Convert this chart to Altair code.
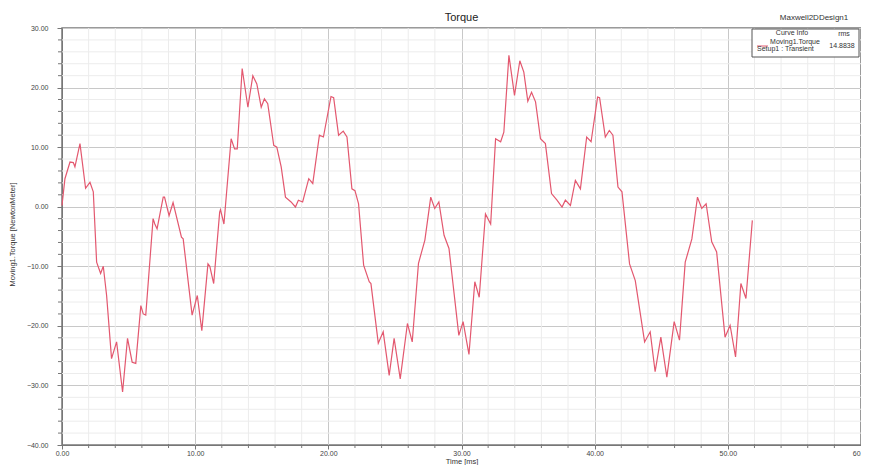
import altair as alt
import pandas as pd

# ---- data ----
time_ms = [0.0, 0.22, 0.6, 0.85, 0.97, 1.35, 1.77, 2.1, 2.35, 2.6,
           2.9, 3.1, 3.35, 3.72, 4.1, 4.55, 4.92, 5.27, 5.54, 5.92,
           6.1, 6.29, 6.84, 6.97, 7.14, 7.6, 7.7, 8.04, 8.34, 8.97,
           9.1, 9.77, 10.16, 10.5, 10.96, 11.1, 11.39, 11.84, 11.9, 12.16,
           12.7, 12.96, 13.16, 13.53, 13.96, 14.33, 14.63, 14.96, 15.2, 15.45,
           15.9, 16.13, 16.46, 16.78, 17.2, 17.53, 17.75, 18.07, 18.53, 18.83,
           19.33, 19.63, 20.2, 20.4, 20.77, 21.12, 21.4, 21.77, 22.0, 22.27,
           22.65, 23.07, 23.2, 23.75, 24.12, 24.57, 24.94, 25.4, 25.94, 26.3,
           26.77, 27.25, 27.69, 27.99, 28.3, 28.69, 29.06, 29.8, 30.12, 30.56,
           31.0, 31.33, 31.8, 32.19, 32.56, 32.94, 33.18, 33.56, 33.98, 34.38,
           34.68, 34.98, 35.26, 35.56, 35.93, 36.3, 36.76, 37.17, 37.55, 37.8,
           38.18, 38.55, 38.93, 39.4, 39.73, 40.22, 40.37, 40.8, 41.1, 41.37,
           41.75, 42.05, 42.62, 43.05, 43.75, 44.17, 44.54, 44.97, 45.42, 45.97,
           46.37, 46.8, 47.3, 47.72, 48.04, 48.37, 48.79, 49.16, 49.79, 50.17,
           50.58, 50.98, 51.36, 51.84]

torque = [0.2, 4.7, 7.5, 7.4, 6.7, 10.6, 3.1, 4.1, 2.5, -9.3,
          -11.2, -10.0, -14.9, -25.5, -22.7, -31.1, -22.1, -26.1, -26.3, -16.6,
          -18.0, -18.2, -2.0, -2.9, -3.7, 1.6, 1.6, -1.5, 0.7, -5.1,
          -5.4, -18.2, -14.9, -20.8, -9.6, -10.0, -12.9, -0.9, -0.5, -2.9,
          11.4, 9.7, 9.7, 23.2, 16.7, 22.0, 20.6, 16.7, 18.1, 17.3,
          10.3, 10.0, 6.7, 1.6, 0.8, -0.05, 1.1, 0.8, 4.7, 3.9,
          12.0, 11.7, 18.5, 18.3, 12.0, 12.7, 11.7, 3.0, 2.7, 0.5,
          -9.8, -12.6, -12.9, -22.9, -21.0, -28.3, -22.1, -28.9, -19.6, -22.7,
          -9.5, -5.6, 1.6, -0.3, 0.8, -4.8, -7.0, -21.6, -19.3, -24.8,
          -12.6, -15.2, -1.2, -2.9, 11.4, 10.9, 12.5, 25.4, 18.7, 24.5,
          22.6, 17.7, 19.2, 17.6, 11.4, 10.6, 2.2, 1.1, -0.05, 1.1,
          0.2, 4.4, 3.0, 11.7, 10.9, 18.4, 18.3, 11.7, 12.8, 12.0,
          3.3, 2.5, -9.6, -12.4, -22.7, -21.0, -27.7, -21.9, -28.6, -19.3,
          -22.4, -9.3, -5.4, 1.6, -0.3, 0.5, -5.9, -7.6, -21.9, -19.9,
          -25.2, -12.9, -15.4, -2.3]

x_major = [0, 10, 20, 30, 40, 50, 60]
y_major = [-40, -30, -20, -10, 0, 10, 20, 30]
x_minor = [v for v in range(0, 61, 2) if v % 10]
y_minor = [v for v in range(-40, 31, 2) if v % 10]

chart_title = "Torque"
design_name = "Maxwell2DDesign1"
legend_head = "Curve Info"
legend_stat = "rms"
curve_name = "Moving1.Torque"
setup_name = "Setup1 : Transient"
rms_value = "14.8838"

# ---- build ----
FONT = "Liberation Sans"
RED = "#e3586f"
W, H = 799, 417

df = pd.DataFrame({"t": time_ms, "T": torque})
xminor_df = pd.DataFrame({"t": x_minor})
yminor_df = pd.DataFrame({"T": y_minor})
leg = pd.DataFrame({"head": [legend_head], "stat": [legend_stat],
                    "name": [curve_name], "setup": [setup_name],
                    "rms": [rms_value], "design": [design_name],
                    "title": [chart_title]})

xs = alt.Scale(domain=[0, 60], nice=False, zero=False)
ys = alt.Scale(domain=[-40, 30], nice=False, zero=False)

x_axis = alt.Axis(
    orient="bottom",
    values=x_major, format=".2f", title="Time [ms]", grid=True,
    gridColor="#c8c8c8", gridWidth=1, domainColor="#777777",
    tickColor="#777777", tickSize=4, labelFontSize=7, labelColor="#444444",
    labelPadding=0, titleFontSize=7.5, titleFontWeight="normal",
    titleColor="#333333", titlePadding=1, labelFlush=False)
y_axis = alt.Axis(
    orient="left",
    values=y_major, format=".2f", title="Moving1.Torque [NewtonMeter]",
    grid=True, gridColor="#c8c8c8", gridWidth=1, domainColor="#777777",
    tickColor="#777777", tickSize=5, labelFontSize=7, labelColor="#444444",
    labelPadding=9, titleFontSize=7.5, titleFontWeight="normal",
    titleColor="#333333", titleX=-46, titleY=206, titleBaseline="bottom",
    labelFlush=False)

X = alt.X("t:Q", scale=xs, axis=x_axis, title="Time [ms]")
Y = alt.Y("T:Q", scale=ys, axis=y_axis, title="Moving1.Torque [NewtonMeter]")

grid_x_minor = alt.Chart(xminor_df).mark_rule(color="#ececec", strokeWidth=1).encode(x=X)
grid_y_minor = alt.Chart(yminor_df).mark_rule(color="#ececec", strokeWidth=1).encode(y=Y)
tick_x_minor = alt.Chart(xminor_df).mark_rule(color="#777777").encode(
    x=X, y=alt.value(H - 1), y2=alt.value(H + 3))
tick_y_minor = alt.Chart(yminor_df).mark_rule(color="#777777").encode(
    y=Y, x=alt.value(-4), x2=alt.value(0))

line = alt.Chart(df).mark_line(color=RED, strokeWidth=1.2).encode(x=X, y=Y)

box = alt.Chart(leg).mark_rect(fill="white", stroke="#555555", strokeWidth=1).encode(
    x=alt.value(690), x2=alt.value(797), y=alt.value(1), y2=alt.value(29))
sample = alt.Chart(leg).mark_rule(color=RED, strokeWidth=1).encode(
    x=alt.value(695), x2=alt.value(706), y=alt.value(18))


def txt(field, x, y, size=7, align="center", color="#333333"):
    return alt.Chart(leg).mark_text(font=FONT, fontSize=size, color=color,
                                    align=align).encode(
        text=alt.Text(f"{field}:N"), x=alt.value(x), y=alt.value(y))


chart = alt.layer(
    grid_x_minor, grid_y_minor, line, tick_x_minor, tick_y_minor,
    box, sample,
    txt("head", 730, 5), txt("stat", 782, 6), txt("name", 733, 14),
    txt("setup", 695, 21, align="left"), txt("rms", 780, 18),
    txt("design", 752, -10, size=8),
    txt("title", W / 2, -10, size=11, color="#222222"),
).properties(
    width=W, height=H,
    padding={"left": 54, "top": 20, "right": 0, "bottom": 20},
    autosize=alt.AutoSizeParams(type="none"),
    background="white",
).configure_view(
    stroke="#7a7a7a", strokeWidth=1.5
).configure_axis(
    labelFont=FONT, titleFont=FONT
)

chart.save("out.html", embed_options={"renderer": "svg", "actions": False})
